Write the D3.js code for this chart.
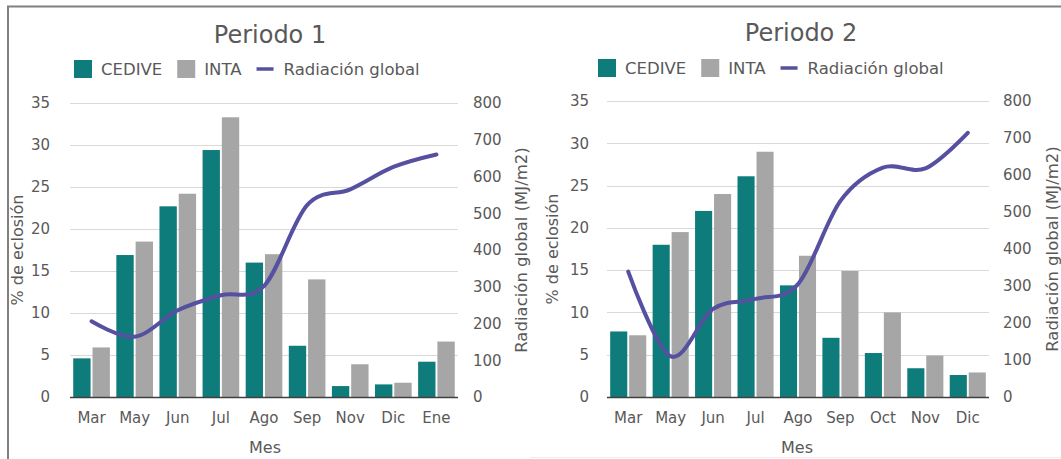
<!DOCTYPE html>
<html>
<head>
<meta charset="utf-8">
<script src="https://cdn.jsdelivr.net/npm/d3@7"></script>
<style>
  html, body { margin: 0; padding: 0; background: #fff; }
  svg { display: block; font-family: "DejaVu Sans", Verdana, sans-serif; }
</style>
</head>
<body>
<svg id="chart" width="1061" height="459"></svg>
<script>
// ---- Data ----
const months1 = ["Mar", "May", "Jun", "Jul", "Ago", "Sep", "Nov", "Dic", "Ene"];
const cedive1 = [4.6, 16.9, 22.7, 29.4, 16.0, 6.1, 1.3, 1.5, 4.2];
const inta1   = [5.9, 18.5, 24.2, 33.3, 17.0, 14.0, 3.9, 1.7, 6.6];
const rad1    = [206, 164, 236, 277, 302, 522, 565, 626, 660];

const months2 = ["Mar", "May", "Jun", "Jul", "Ago", "Sep", "Oct", "Nov", "Dic"];
const cedive2 = [7.75, 18.0, 22.0, 26.1, 13.2, 7.0, 5.2, 3.4, 2.6];
const inta2   = [7.3, 19.5, 24.0, 29.0, 16.7, 14.9, 10.0, 4.9, 2.9];
const rad2    = [339, 110, 238, 265, 305, 530, 620, 618, 714];

const leftTicks  = [0, 5, 10, 15, 20, 25, 30, 35];
const rightTicks = [0, 100, 200, 300, 400, 500, 600, 700, 800];
const titles = ["Periodo 1", "Periodo 2"];
const seriesNames = ["CEDIVE", "INTA", "Radiación global"];
const leftTitle = "% de eclosión";
const rightTitle = "Radiación global (MJ/m2)";
const xTitle = "Mes";

// ---- Style ----
const C_CEDIVE = "#0e7c7b";
const C_INTA = "#a6a6a6";
const C_LINE = "#5650a0";
const C_TEXT = "#595959";
const C_GRID = "#d9d9d9";

const svg = d3.select("#chart");

// outer border (top and left)
svg.append("line").attr("x1", 7).attr("x2", 1061).attr("y1", 6.5).attr("y2", 6.5)
  .attr("stroke", "#808080").attr("stroke-width", 2);
svg.append("line").attr("x1", 8).attr("x2", 8).attr("y1", 6).attr("y2", 459)
  .attr("stroke", "#808080").attr("stroke-width", 2);
svg.append("line").attr("x1", 530).attr("x2", 1061).attr("y1", 457.5).attr("y2", 457.5)
  .attr("stroke", "#ececec").attr("stroke-width", 1);

const panels = [
  { months: months1, cedive: cedive1, inta: inta1, rad: rad1, title: titles[0],
    x0: 70, x1: 458, y0: 397, y1: 103, titleX: 270, titleY: 43, legendX: 74, legendY: 60,
    leftLabX: 50, rightLabX: 473, leftTitleX: 23, rightTitleX: 521, xTitleX: 265 },
  { months: months2, cedive: cedive2, inta: inta2, rad: rad2, title: titles[1],
    x0: 607, x1: 989, y0: 397, y1: 101, titleX: 801, titleY: 41, legendX: 598, legendY: 59,
    leftLabX: 589, rightLabX: 1003, leftTitleX: 558, rightTitleX: 1052, xTitleX: 797 }
];

panels.forEach(p => {
  const g = svg.append("g");
  const x = d3.scaleBand().domain(p.months).range([p.x0, p.x1]).paddingInner(0.15).paddingOuter(0.075);
  const xs = d3.scaleBand().domain(["CEDIVE", "INTA"]).range([0, x.bandwidth()]).paddingInner(0.1);
  const yL = d3.scaleLinear().domain([0, 35]).range([p.y0, p.y1]);
  const yR = d3.scaleLinear().domain([0, 800]).range([p.y0, p.y1]);
  const xc = d3.scalePoint().domain(p.months).range([p.x0, p.x1]).padding(0.5);

  // gridlines
  g.append("g").selectAll("line").data(leftTicks.filter(d => d > 0)).join("line")
    .attr("x1", p.x0).attr("x2", p.x1)
    .attr("y1", d => Math.round(yL(d)) + 0.5).attr("y2", d => Math.round(yL(d)) + 0.5)
    .attr("stroke", C_GRID).attr("stroke-width", 1);

  // bars
  const grp = g.append("g").selectAll("g").data(p.months).join("g")
    .attr("transform", d => `translate(${x(d)},0)`);
  grp.append("rect")
    .attr("x", xs("CEDIVE")).attr("width", xs.bandwidth())
    .attr("y", (d, i) => yL(p.cedive[i])).attr("height", (d, i) => p.y0 - yL(p.cedive[i]))
    .attr("fill", C_CEDIVE);
  grp.append("rect")
    .attr("x", xs("INTA")).attr("width", xs.bandwidth())
    .attr("y", (d, i) => yL(p.inta[i])).attr("height", (d, i) => p.y0 - yL(p.inta[i]))
    .attr("fill", C_INTA);

  // baseline axis
  g.append("line").attr("x1", p.x0).attr("x2", p.x1).attr("y1", p.y0 + 0.5).attr("y2", p.y0 + 0.5)
    .attr("stroke", "#404040").attr("stroke-width", 1.5);

  // line
  const line = d3.line().x((d, i) => xc(p.months[i])).y(d => yR(d)).curve(d3.curveCardinal.tension(0));
  g.append("path").datum(p.rad).attr("d", line)
    .attr("fill", "none").attr("stroke", C_LINE).attr("stroke-width", 4).attr("stroke-linecap", "round");

  // left axis labels
  const axL = d3.axisLeft(yL).tickValues(leftTicks).tickSize(0).tickPadding(0);
  const gL = g.append("g").attr("transform", `translate(${p.leftLabX},0)`).call(axL);
  gL.select(".domain").remove();
  gL.selectAll("text").attr("fill", C_TEXT).style("font-size", "15px").style("font-family", "DejaVu Sans");

  // right axis labels
  const axR = d3.axisRight(yR).tickValues(rightTicks).tickSize(0).tickPadding(0);
  const gR = g.append("g").attr("transform", `translate(${p.rightLabX},0)`).call(axR);
  gR.select(".domain").remove();
  gR.selectAll("text").attr("fill", C_TEXT).style("font-size", "15px").style("font-family", "DejaVu Sans");

  // x axis labels
  const axX = d3.axisBottom(x).tickSize(0).tickPadding(15);
  const gX = g.append("g").attr("transform", `translate(0,${p.y0})`).call(axX);
  gX.select(".domain").remove();
  gX.selectAll("text").attr("fill", C_TEXT).style("font-size", "15px").style("font-family", "DejaVu Sans");

  // axis titles
  g.append("text").attr("x", p.xTitleX).attr("y", 453).attr("text-anchor", "middle")
    .attr("fill", C_TEXT).style("font-size", "16px").text(xTitle);
  g.append("text").attr("transform", `translate(${p.leftTitleX},${(p.y0 + p.y1) / 2}) rotate(-90)`)
    .attr("text-anchor", "middle").attr("fill", C_TEXT).style("font-size", "16px").text(leftTitle);
  g.append("text").attr("transform", `translate(${p.rightTitleX},${(p.y0 + p.y1) / 2}) rotate(-90)`)
    .attr("text-anchor", "middle").attr("dy", "0.35em").attr("fill", C_TEXT).style("font-size", "16.5px").text(rightTitle);

  // title
  g.append("text").attr("x", p.titleX).attr("y", p.titleY).attr("text-anchor", "middle")
    .attr("fill", C_TEXT).style("font-size", "24px").text(p.title);

  // legend
  const lg = g.append("g").attr("transform", `translate(${p.legendX},${p.legendY})`);
  let cx = 0;
  const sw = 18;
  [C_CEDIVE, C_INTA, C_LINE].forEach((c, i) => {
    if (i < 2) {
      lg.append("rect").attr("x", cx).attr("y", 0).attr("width", sw).attr("height", sw).attr("fill", c);
      cx += sw + 9;
    } else {
      lg.append("line").attr("x1", cx).attr("x2", cx + 17).attr("y1", sw / 2).attr("y2", sw / 2)
        .attr("stroke", c).attr("stroke-width", 3.5);
      cx += 17 + 10;
    }
    const t = lg.append("text").attr("x", cx).attr("y", sw / 2).attr("dy", "0.36em")
      .attr("fill", C_TEXT).style("font-size", "16.5px").text(seriesNames[i]);
    cx += t.node().getComputedTextLength() + 15;
  });
});
</script>
</body>
</html>
